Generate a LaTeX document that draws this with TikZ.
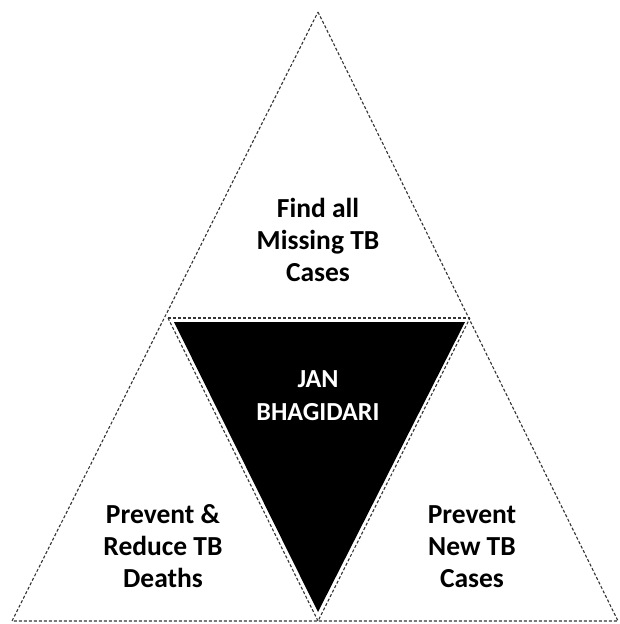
\documentclass[tikz,border=0pt]{standalone}
\usepackage{fontspec}
\setmainfont{Carlito}
\usetikzlibrary{positioning}

\begin{document}
\begin{tikzpicture}[x=1pt, y=-1pt]
\tikzset{
   edge/.style={draw=black!80, densely dashed, line width=1.1pt},
   label/.style={font=\bfseries\fontsize{27.5}{32}\selectfont, align=center, text=black},
   hub/.style={font=\bfseries\fontsize{26}{33}\selectfont, align=center, text=white},
}
\useasboundingbox (0,0) rectangle (620,624);
% corners of the three outer triangles
\coordinate (apex) at (318,12);
\coordinate (midl) at (168,318);
\coordinate (midr) at (470,318);
\coordinate (basel) at (12,621);
\coordinate (basem) at (318,621);
\coordinate (baser) at (618,621);

% outline
\draw[edge] (apex) -- (baser) -- (basel) -- cycle;
\draw[edge] (midl) -- (midr);
\draw[edge] (midl) -- (basem) -- (midr);

% the black centre
\fill[black] (174,322) -- (465,322) -- (318,612) -- cycle;

\node[label] (find) at (318,240) {Find all\\Missing TB\\Cases};
\node[hub] (jan) at (318,396) {JAN\\BHAGIDARI};
\node[label] (deaths) at (163,546) {Prevent \&\\Reduce TB\\Deaths};
\node[label] (new) at (472,547) {Prevent\\New TB\\Cases};
\end{tikzpicture}
\end{document}
